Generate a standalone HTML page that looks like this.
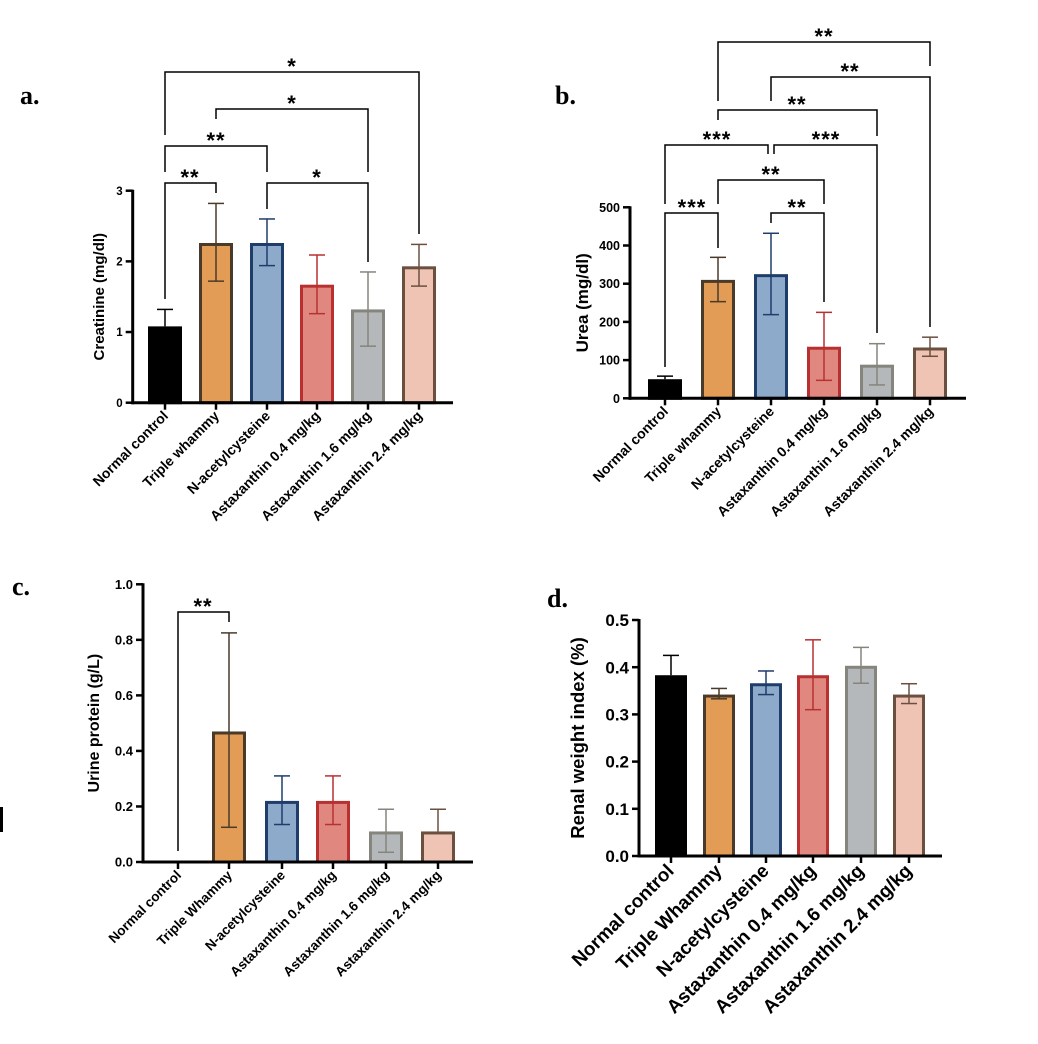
<!DOCTYPE html>
<html><head><meta charset="utf-8"><style>
html,body{margin:0;padding:0;background:#fff;}
svg{display:block;font-family:"Liberation Sans",Arial,sans-serif;}
.p{font-family:"Liberation Serif",serif;font-weight:bold;font-size:26px;}
</style></head><body>
<svg id="s" width="1038" height="1044" viewBox="0 0 1038 1044" xmlns="http://www.w3.org/2000/svg">
<text class="p" x="20" y="104">a.</text>
<text class="p" x="555" y="104">b.</text>
<text class="p" x="12" y="595">c.</text>
<text class="p" x="547" y="607">d.</text>
<rect x="0" y="807" width="3" height="25" fill="#000"/>
</svg>
<script>
var S=document.getElementById('s'),NS='http://www.w3.org/2000/svg';
function el(t,a,txt){var e=document.createElementNS(NS,t);for(var k in a)e.setAttribute(k,a[k]);if(txt!=null)e.textContent=txt;S.appendChild(e);return e;}
var fills=['#000','#e39c55','#8eaacb','#e08880','#b5b8bb','#f0c4b5'];
var strokes=['#000','#4a3a2a','#1f3d6b','#b83030','#85857d','#6b5040'];
function chart(o){
  var sc=(o.y0-o.yT)/o.max;
  function Y(v){return o.y0-v*sc;}
  for(var i=0;i<6;i++){
    var cx=o.cx[i],v=o.v[i],w=o.bw;
    if(v>0){el('rect',{x:cx-w/2+1.5,y:Y(v)+1.5,width:w-3,height:o.y0-Y(v)-1.5,fill:fills[i],stroke:strokes[i],'stroke-width':3});}
    var e=o.e[i];
    if(e){var c=strokes[i];
      el('line',{x1:cx,y1:Y(e[0]),x2:cx,y2:Y(e[1]),stroke:c,'stroke-width':1.5});
      el('line',{x1:cx-8,y1:Y(e[0]),x2:cx+8,y2:Y(e[0]),stroke:c,'stroke-width':1.5});
      if(e[1]<v)el('line',{x1:cx-8,y1:Y(e[1]),x2:cx+8,y2:Y(e[1]),stroke:c,'stroke-width':1.5});
    }
    el('line',{x1:cx,y1:o.y0,x2:cx,y2:o.y0+7,stroke:'#000','stroke-width':2.5});
    var lx=cx+4,ly=o.y0+o.lo;
    el('text',{x:lx,y:ly,'font-size':o.lf,'font-weight':'bold','text-anchor':'end',transform:'rotate(-45 '+lx+' '+ly+')'},o.labels[i]);
  }
  el('line',{x1:o.ax,y1:o.yT-1,x2:o.ax,y2:o.y0+1.5,stroke:'#000','stroke-width':3});
  el('line',{x1:o.ax-1.5,y1:o.y0,x2:o.xe,y2:o.y0,stroke:'#000','stroke-width':3});
  for(var j=0;j<o.ticks.length;j++){var t=o.ticks[j],y=Y(t);
    el('line',{x1:o.ax-7,y1:y,x2:o.ax,y2:y,stroke:'#000','stroke-width':2.5});
    el('text',{x:o.ax-10,y:y+o.tf*0.36,'font-size':o.tf,'font-weight':'bold','text-anchor':'end'},o.tl[j]);
  }
  var mx=o.tx,my=(o.y0+o.yT)/2;
  el('text',{x:mx,y:my,'font-size':o.af,'font-weight':'bold','text-anchor':'middle',transform:'rotate(-90 '+mx+' '+my+')'},o.title);
  (o.br||[]).forEach(function(b){
    el('polyline',{points:b[0]+','+b[3]+' '+b[0]+','+b[2]+' '+b[1]+','+b[2]+' '+b[1]+','+b[4],fill:'none',stroke:'#000','stroke-width':1.5});
    el('text',{x:b[6]!=null?b[6]:(b[0]+b[1])/2,y:b[2]+2,'font-size':22,'font-weight':'bold','text-anchor':'middle','letter-spacing':'1'},b[5]);
  });
}
var L1=['Normal control','Triple whammy','N-acetylcysteine','Astaxanthin 0.4 mg/kg','Astaxanthin 1.6 mg/kg','Astaxanthin 2.4 mg/kg'];
var L2=['Normal control','Triple Whammy','N-acetylcysteine','Astaxanthin 0.4 mg/kg','Astaxanthin 1.6 mg/kg','Astaxanthin 2.4 mg/kg'];
chart({cx:[165,216,267,317,368,419],bw:34,y0:402.7,yT:190.7,max:3,ax:132.7,xe:453,
 v:[1.08,2.26,2.26,1.67,1.32,1.93],e:[[1.32,1.08],[2.82,1.72],[2.6,1.94],[2.09,1.26],[1.85,0.8],[2.24,1.65]],
 ticks:[0,1,2,3],tl:['0','1','2','3'],tf:11.5,af:15,tx:104,title:'Creatinine (mg/dl)',lf:14,lo:14,labels:L1,
 br:[[165,419,72,135,234,'*'],[216,368,109,119,172,'*'],[165,267,146,172,172,'**',216],[165,216,183,299,193,'**',190],[267,368,183,209,262,'*',317]]});
chart({cx:[665,718,771,824,877,930],bw:34,y0:398.3,yT:207.3,max:500,ax:630,xe:966,
 v:[50,310,325,135,88,133],e:[[58,50],[369,253],[432,219],[225,47],[143,35],[160,110]],
 ticks:[0,100,200,300,400,500],tl:['0','100','200','300','400','500'],tf:12.5,af:17,tx:588,title:'Urea (mg/dl)',lf:14,lo:14,labels:L1,
 br:[[718,930,42,101,66,'**',824],[771,930,77,101,327,'**',850],[718,877,110,120,136,'**',797],[665,768,145,204,154,'***',717],[774,877,145,154,333,'***',826],[718,824,180,204,204,'**',771],[665,718,213,367,248,'***',692],[771,824,213,223,302,'**',797]]});
chart({cx:[178,229,282,333,386,438],bw:34,y0:862,yT:584.3,max:1,ax:143,xe:473,
 v:[0,0.47,0.22,0.22,0.11,0.11],e:[null,[0.825,0.125],[0.31,0.135],[0.31,0.135],[0.19,0.035],[0.19,0.11]],
 ticks:[0,0.2,0.4,0.6,0.8,1.0],tl:['0.0','0.2','0.4','0.6','0.8','1.0'],tf:13,af:16,tx:99,title:'Urine protein (g/L)',lf:13.5,lo:14,labels:L2,
 br:[[178,229,612,851,622,'**',203]]});
chart({cx:[671,719,766,813,861,909],bw:32,y0:856,yT:620,max:0.5,ax:639,xe:942,
 v:[0.383,0.342,0.366,0.383,0.403,0.342],e:[[0.425,0.383],[0.355,0.333],[0.392,0.342],[0.458,0.31],[0.442,0.366],[0.365,0.323]],
 ticks:[0,0.1,0.2,0.3,0.4,0.5],tl:['0.0','0.1','0.2','0.3','0.4','0.5'],tf:17,af:18.5,tx:584,title:'Renal weight index (%)',lf:19,lo:16,labels:L2});
</script>
</body></html>
